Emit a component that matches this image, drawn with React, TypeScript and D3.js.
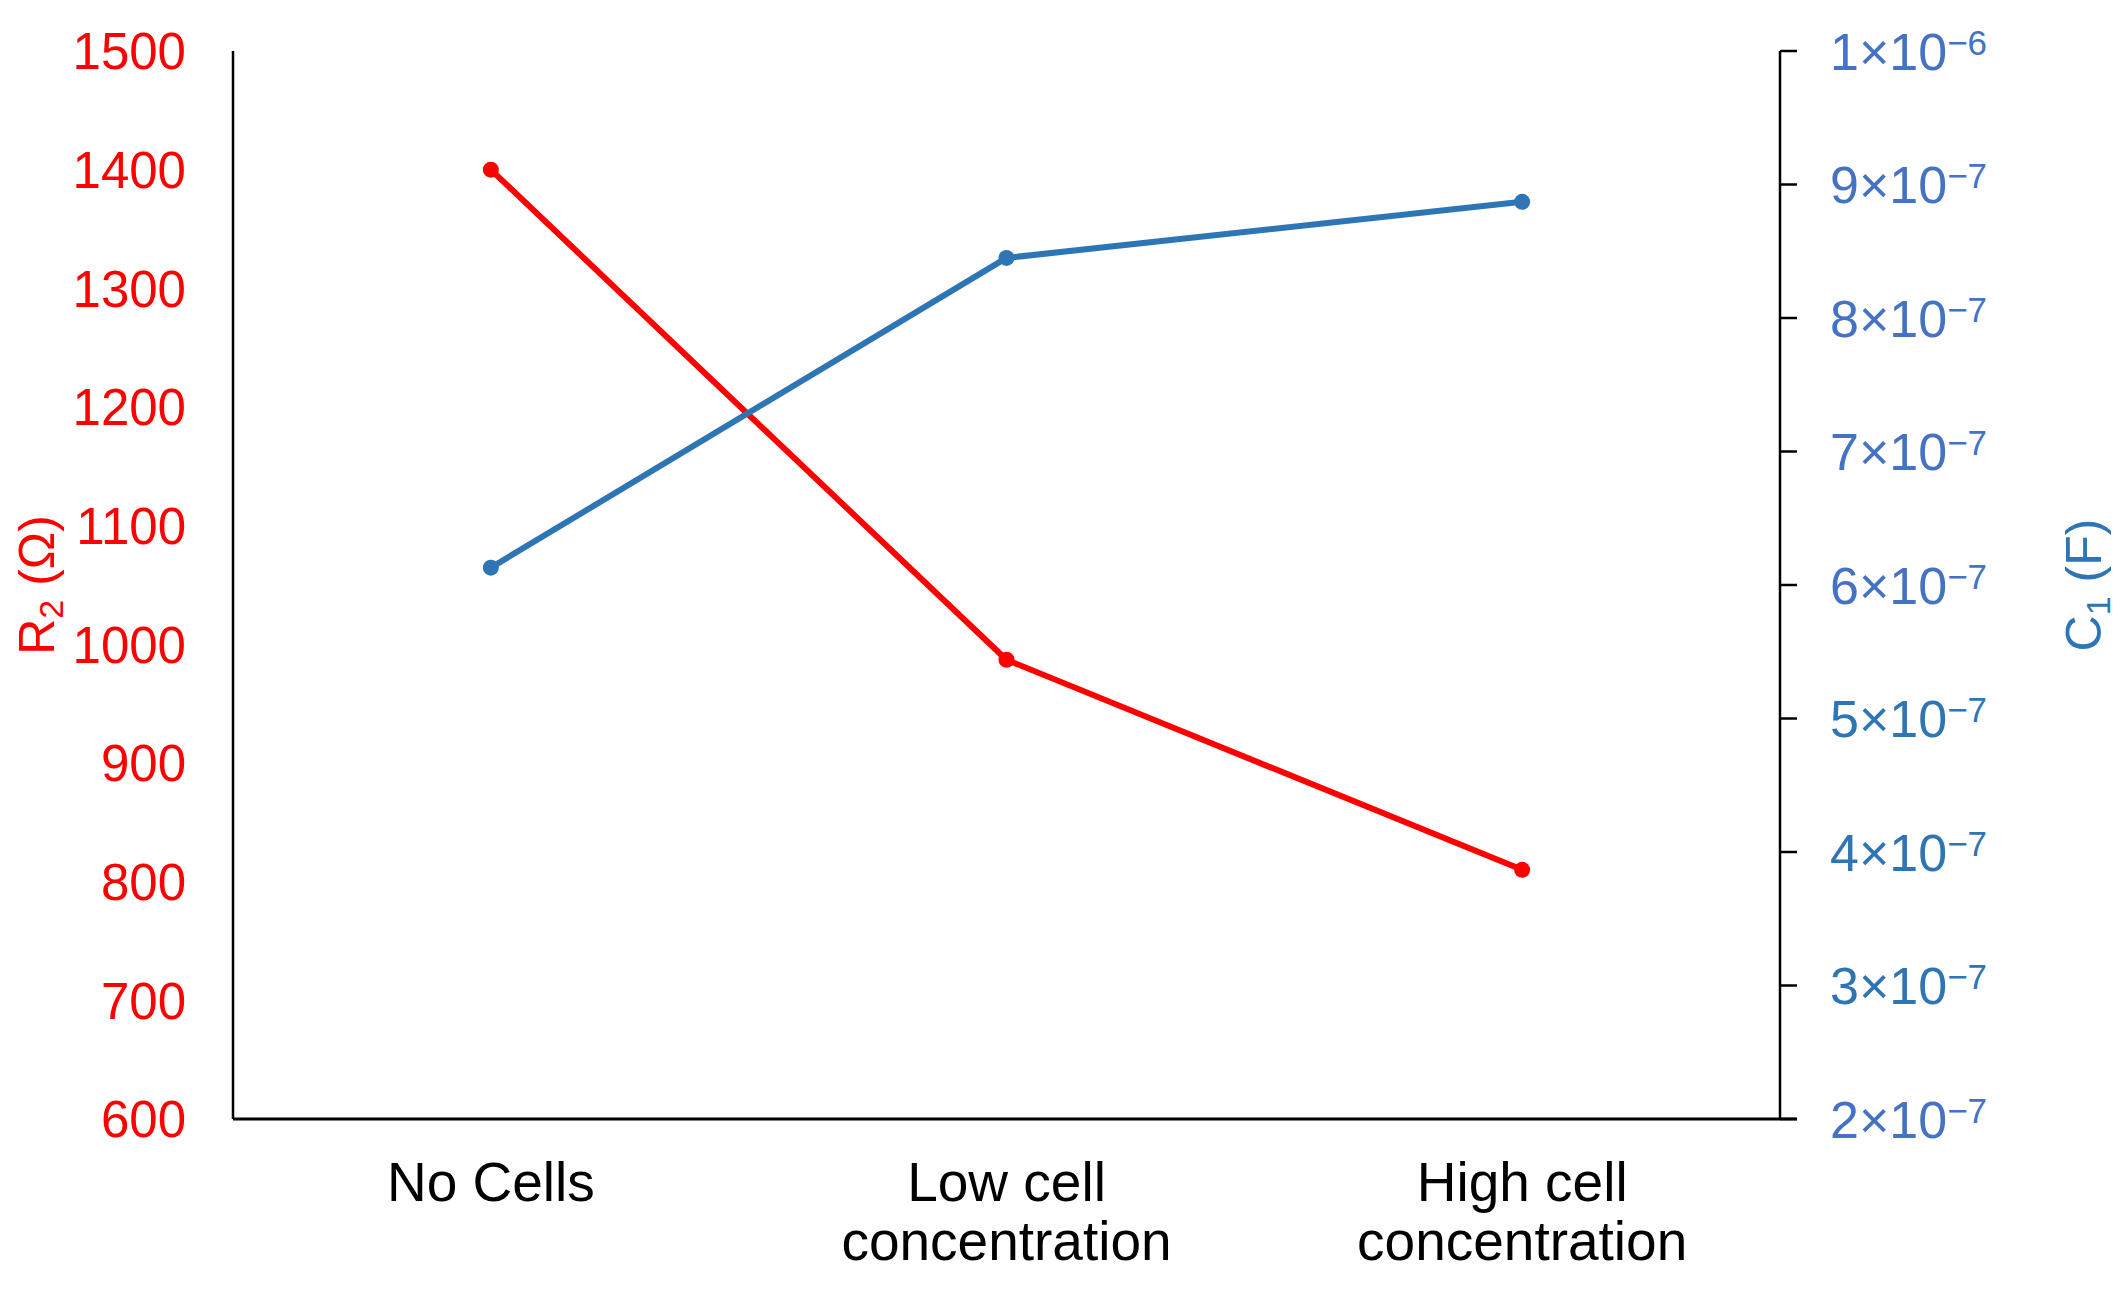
import React from 'react';
import * as d3 from 'd3';

// categories + series
const categories = [['No Cells'], ['Low cell', 'concentration'], ['High cell', 'concentration']];
const r2Values = [1400, 987, 810];
const c1Values = [6.13e-7, 8.45e-7, 8.87e-7];

const r2Ticks = [600, 700, 800, 900, 1000, 1100, 1200, 1300, 1400, 1500];
const c1Ticks = [2e-7, 3e-7, 4e-7, 5e-7, 6e-7, 7e-7, 8e-7, 9e-7, 1e-6];

const W = 2120;
const H = 1295;
const FONT = '"Liberation Sans", Arial, sans-serif';
const RED = '#ff0000';
const BLUE = '#2e75b6';
const BLUE_LABEL = '#4472c4';

const fmtC1 = (v: number) => {
  const exp = Math.floor(Math.log10(v) + 1e-9);
  const mant = Math.round(v / Math.pow(10, exp));
  return { mant, exp };
};

export default function App() {
  const left = 233, right = 1780, top = 51, bottom = 1119;

  const x = d3.scalePoint<number>()
    .domain(d3.range(categories.length))
    .range([left, right])
    .padding(0.5);
  const yL = d3.scaleLinear().domain([600, 1500]).range([bottom, top]);
  const yR = d3.scaleLinear().domain([2e-7, 1e-6]).range([bottom, top]);

  const redLine = d3.line<number>().x((_, i) => x(i)!).y(d => yL(d));
  const blueLine = d3.line<number>().x((_, i) => x(i)!).y(d => yR(d));

  return (
    <svg width={W} height={H} style={{ position: 'absolute', left: 0, top: 0, background: '#fff' }}
      fontFamily={FONT}>
      {/* left axis */}
      <line x1={left} x2={left} y1={top} y2={bottom} stroke="#000" strokeWidth={2.5} />
      {r2Ticks.map(t => (
        <text key={t} x={186} y={yL(t)} dy="0.36em" textAnchor="end" fontSize={51} fill={RED}>{t}</text>
      ))}
      <text transform={`translate(54,${(top + bottom) / 2}) rotate(-90)`} textAnchor="middle"
        fontSize={50} fill={RED}>
        R<tspan fontSize={34} dy={9}>2</tspan><tspan dy={-9}> (Ω)</tspan>
      </text>

      {/* right axis */}
      <line x1={right} x2={right} y1={top} y2={bottom} stroke="#000" strokeWidth={2.5} />
      {c1Ticks.map(t => {
        const { mant, exp } = fmtC1(t);
        const dark = mant >= 3 && mant <= 5;
        return (
          <g key={t}>
            <line x1={right} x2={right + 17} y1={yR(t)} y2={yR(t)} stroke="#000" strokeWidth={2.5} />
            <text x={1830} y={yR(t)} dy="0.36em" fontSize={52} fill={dark ? BLUE : BLUE_LABEL}>
              {mant}×10<tspan fontSize={35} dy={-15}>{'\u2212' + Math.abs(exp)}</tspan>
            </text>
          </g>
        );
      })}
      <text transform={`translate(2101,${(top + bottom) / 2}) rotate(-90)`} textAnchor="middle"
        fontSize={50} fill={BLUE}>
        C<tspan fontSize={34} dy={9}>1</tspan><tspan dy={-9}> (F)</tspan>
      </text>

      {/* bottom axis */}
      <line x1={left} x2={right + 17} y1={bottom} y2={bottom} stroke="#000" strokeWidth={3} />
      {categories.map((lines, i) => (
        <text key={i} x={x(i)} y={1201} textAnchor="middle" fontSize={55} fill="#000">
          {lines.map((l, j) => (
            <tspan key={j} x={x(i)} dy={j === 0 ? 0 : 59}>{l}</tspan>
          ))}
        </text>
      ))}

      {/* series */}
      <path d={redLine(r2Values)!} fill="none" stroke={RED} strokeWidth={6} strokeLinejoin="round" />
      {r2Values.map((v, i) => <circle key={i} cx={x(i)} cy={yL(v)} r={8} fill={RED} />)}
      <path d={blueLine(c1Values)!} fill="none" stroke={BLUE} strokeWidth={6} strokeLinejoin="round" />
      {c1Values.map((v, i) => <circle key={i} cx={x(i)} cy={yR(v)} r={8} fill={BLUE} />)}
    </svg>
  );
}
